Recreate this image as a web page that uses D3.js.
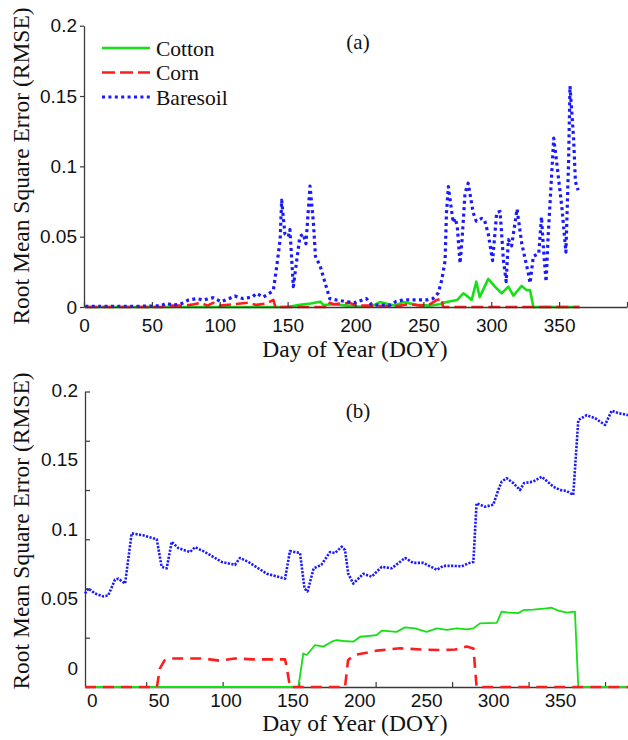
<!DOCTYPE html>
<html>
<head>
<meta charset="utf-8">
<script src="https://cdn.jsdelivr.net/npm/d3@7"></script>
<style>
  body { margin: 0; background: #fff; }
  svg { display: block; }
  .tick text { font-family: "Liberation Sans", Arial, sans-serif; font-size: 19px; fill: #111; }
  .serif { font-family: "Liberation Serif", "Times New Roman", serif; fill: #111; }
</style>
</head>
<body>
<svg id="chart" width="628" height="740"></svg>
<script>
// ---- Series: [day of year, RMSE] ----
const seriesNames = ["Cotton", "Corn", "Baresoil"];

// Panel (a)
const aCotton = [[1,0],[148,0],[152,0.0003],[159,0.0015],[167,0.0025],[174,0.0038],[176.5,0.0014],[184,0.002],
  [194,0.001],[200,0.0003],[212,0.0005],[218,0.0035],[224.5,0.002],[229,0.001],[235,0.0035],[245,0.0015],
  [255,0.001],[262,0.002],[267,0.0035],[275,0.005],[279.4,0.0097],[282,0.008],[285.6,0.005],[289,0.018],
  [291.5,0.007],[297.8,0.020],[302.7,0.0145],[307.7,0.0097],[312.6,0.0145],[316.3,0.008],[322.4,0.015],
  [326,0.012],[328.6,0.012],[331,0],[365,0]];
const aCorn = [[1,0],[58,0],[60,0.001],[75,0.001],[81,0.002],[86,0.003],[91,0.001],[95,0.003],[100,0.001],
  [110,0.002],[121,0.003],[127,0.0015],[134.5,0.0025],[139.5,0.005],[141,0],[180,0],[181,0.003],[184,0.002],
  [196,0.003],[200,0.001],[215,0.001],[225,0.0005],[233,0.001],[240,0.002],[248,0.001],[255,0.002],
  [260,0.005],[263.5,0.006],[264.5,0],[365,0]];
const aBaresoil = [[1,0.0005],[20,0.0005],[40,0.0005],[56,0.0008],[61,0.0026],[65,0.0014],[71,0.002],[77,0.005],
  [83,0.006],[88,0.005],[95,0.0066],[101,0.0038],[107,0.006],[111,0.0078],[117,0.006],[124,0.007],[127,0.0097],
  [132,0.007],[137,0.010],[139.5,0.012],[142,0.029],[144.5,0.048],[145.6,0.076],[148,0.052],[150.5,0.050],
  [151.7,0.055],[154.2,0.0145],[156.7,0.033],[159,0.050],[161.5,0.052],[163.5,0.045],[166.5,0.086],[169,0.060],
  [170.5,0.036],[174,0.029],[181,0.006],[186,0.005],[192,0.004],[199,0.003],[208,0.006],[212,0.0014],
  [218,0.0014],[225.7,0.0014],[230,0.004],[235,0.005],[245,0.005],[252.5,0.005],[257,0.006],[261,0.010],
  [263.5,0.019],[266,0.033],[267,0.067],[268.4,0.0856],[271,0.067],[272,0.060],[273.5,0.063],[275,0.057],
  [277,0.031],[278.5,0.048],[280.7,0.081],[283,0.088],[286.7,0.067],[289,0.061],[293,0.063],[295,0.062],
  [297.8,0.052],[301,0.033],[304,0.067],[306.5,0.068],[309,0.033],[311,0.018],[312.6,0.048],[315,0.0435],
  [319,0.0696],[322.5,0.045],[327.3,0.024],[328.6,0.017],[331,0.036],[335,0.038],[337,0.064],[338.5,0.041],
  [340.4,0.018],[342,0.052],[344,0.0856],[346,0.120],[348,0.1045],[352,0.071],[355,0.039],[357,0.1045],
  [358,0.157],[360.7,0.119],[362,0.089],[364,0.083]];

// Panel (b)
const bCotton = [[10,0],[149.5,0],[152.7,0.034],[155,0.0325],[160.4,0.0426],[165.8,0.041],[171.3,0.046],
  [174.5,0.0477],[178.9,0.0467],[185.4,0.046],[189.8,0.051],[196.3,0.052],[200.7,0.0528],[204,0.0572],
  [213.8,0.056],[219.2,0.0606],[225.7,0.0595],[233.4,0.056],[240,0.0595],[246.5,0.058],[253,0.0595],
  [259.5,0.0584],[263.9,0.0595],[268.2,0.0646],[279.2,0.065],[282.4,0.0765],[286.7,0.0755],[293.3,0.075],
  [296.5,0.078],[303,0.0785],[311.8,0.0799],[315.1,0.0805],[319.4,0.0775],[324.9,0.0755],[330.3,0.0765],
  [332.5,0],[365,0]];
const bCorn = [[10,0],[57,0],[59,0.019],[62,0.027],[65.6,0.029],[76,0.029],[87,0.029],[98,0.0267],[108,0.029],
  [120,0.028],[140.8,0.028],[142,0.019],[144,0],[180,0],[182,0.0274],[186.5,0.0325],[200.7,0.0369],
  [216,0.0393],[230,0.038],[242,0.0375],[252,0.038],[259.5,0.041],[264,0.039],[266,0],[365,0]];
const bBaresoil = [[10,0.095],[12.2,0.100],[16.5,0.095],[22,0.092],[25.2,0.093],[29.6,0.109],[31.8,0.110],
  [36.2,0.105],[40.5,0.156],[48,0.154],[56.9,0.150],[60.1,0.122],[63.4,0.1205],[66.7,0.1475],[71,0.141],
  [78.6,0.137],[82,0.142],[89.6,0.136],[99.4,0.127],[108,0.124],[111.3,0.131],[116.8,0.127],[128.8,0.115],
  [140.8,0.110],[144,0.138],[150.6,0.136],[153.5,0.100],[155.5,0.097],[159.5,0.1205],[164.5,0.124],
  [170.2,0.137],[173.4,0.136],[177.8,0.1424],[180,0.139],[182.1,0.115],[185.4,0.105],[192,0.115],
  [197.4,0.112],[204,0.122],[210.5,0.1205],[219.2,0.131],[224.6,0.126],[231.2,0.126],[240,0.119],
  [244.3,0.123],[250.8,0.123],[256.3,0.1225],[260.6,0.1256],[263.9,0.127],[266,0.1865],[271.5,0.183],
  [276.9,0.185],[280.2,0.200],[282.4,0.2085],[285.7,0.212],[290,0.207],[294.4,0.200],[297,0.207],
  [303,0.2085],[308.6,0.2135],[316.2,0.2034],[320.5,0.200],[324.9,0.199],[329.2,0.195],[332.5,0.271],
  [338,0.276],[343.4,0.273],[350,0.266],[354.3,0.2805],[358.7,0.278],[365,0.276]];

// ---- Axis ticks and labels ----
const xTicksA = [0, 50, 100, 150, 200, 250, 300, 350, 400];
const yTicksA = [0, 0.05, 0.1, 0.15, 0.2];
const xMarksB = [50, 100, 150, 200, 250, 300, 350];
const yMarksB = [0, 0.05, 0.1, 0.15, 0.2, 0.25, 0.3];
const xLabelsB = [0, 50, 100, 150, 200, 250, 300, 350];
const yLabelsB = [0, 0.05, 0.1, 0.15, 0.2];

const colors = { Cotton: "#14e014", Corn: "#ff1c1c", Baresoil: "#1a1aff" };
const fmtY = v => v === 0 ? "0" : String(+v.toFixed(2));

const svg = d3.select("#chart");

function styleAxis(g) {
  g.select(".domain").attr("stroke", "#3a3a3a").attr("stroke-width", 1.3);
  g.selectAll(".tick line").attr("stroke", "#3a3a3a").attr("stroke-width", 1.2);
}

// ================= Panel (a) =================
const xA = d3.scaleLinear().domain([0, 400]).range([84, 627]);
const yA = d3.scaleLinear().domain([0, 0.2]).range([307, 25.7]);

const lineA = d3.line().x(d => xA(d[0])).y(d => yA(d[1]));
const panelA = svg.append("g");

const styleA = {
  Cotton:   { w: 2.6, dash: null },
  Corn:     { w: 2.6, dash: "12,5" },
  Baresoil: { w: 3.2, dash: "3,3.4" }
};
[["Cotton", aCotton], ["Corn", aCorn], ["Baresoil", aBaresoil]].forEach(([name, data]) => {
  panelA.append("path").datum(data)
    .attr("d", lineA).attr("fill", "none")
    .attr("stroke", colors[name]).attr("stroke-width", styleA[name].w)
    .attr("stroke-dasharray", styleA[name].dash)
    .attr("stroke-linejoin", "round");
});

panelA.append("g").attr("transform", "translate(0,307)")
  .call(d3.axisBottom(xA).tickValues(xTicksA).tickSize(-5).tickSizeOuter(0).tickPadding(11.5)
    .tickFormat(d => d === 400 ? "" : d))
  .call(styleAxis);
panelA.append("g").attr("transform", "translate(84,0)")
  .call(d3.axisLeft(yA).tickValues(yTicksA).tickSize(4).tickSizeOuter(0).tickPadding(3).tickFormat(fmtY))
  .call(styleAxis);

// legend
const legend = panelA.append("g");
seriesNames.forEach((name, i) => {
  const y = 48 + i * 24.5;
  legend.append("line").attr("x1", 102).attr("x2", 150).attr("y1", y).attr("y2", y)
    .attr("stroke", colors[name]).attr("stroke-width", styleA[name].w)
    .attr("stroke-dasharray", name === "Corn" ? "13,5" : styleA[name].dash);
  legend.append("text").attr("class", "serif").attr("x", 156).attr("y", y + 7.5)
    .attr("font-size", 21.5).text(name);
});

panelA.append("text").attr("class", "serif").attr("x", 358).attr("y", 49)
  .attr("text-anchor", "middle").attr("font-size", 21).text("(a)");
panelA.append("text").attr("class", "serif").attr("x", 355).attr("y", 357)
  .attr("text-anchor", "middle").attr("font-size", 23.5).text("Day of Year (DOY)");
panelA.append("text").attr("class", "serif")
  .attr("transform", "translate(29,166) rotate(-90)")
  .attr("text-anchor", "middle").attr("font-size", 23.5).text("Root Mean Square Error (RMSE)");

// ================= Panel (b) =================
const xB = d3.scaleLinear().domain([10, 365]).range([85, 628]);
const yB = d3.scaleLinear().domain([0, 0.3]).range([687, 391.5]);
// tick labels are set on the same grid spacing as panel (a)
const xBLab = d3.scaleLinear().domain([0, 350]).range([91.7, 560]);
const yBLab = d3.scaleLinear().domain([0, 0.2]).range([668, 390]);

const lineB = d3.line().x(d => xB(d[0])).y(d => yB(d[1]));
const panelB = svg.append("g");

panelB.append("g").attr("transform", "translate(0,687)")
  .call(d3.axisBottom(xB).tickValues(xMarksB).tickSize(-5).tickSizeOuter(0).tickFormat(""))
  .call(styleAxis);
panelB.append("g").attr("transform", "translate(85,0)")
  .call(d3.axisLeft(yB).tickValues(yMarksB).tickSize(-5).tickSizeOuter(0).tickFormat(""))
  .call(styleAxis);

const labX = panelB.append("g").attr("transform", "translate(0,687)")
  .call(d3.axisBottom(xBLab).tickValues(xLabelsB).tickSize(0).tickPadding(6.5));
labX.select(".domain").remove();
const labY = panelB.append("g").attr("transform", "translate(85,0)")
  .call(d3.axisLeft(yBLab).tickValues(yLabelsB).tickSize(0).tickPadding(7).tickFormat(fmtY));
labY.select(".domain").remove();

const styleB = {
  Cotton:   { w: 1.8, dash: null },
  Corn:     { w: 2.6, dash: "11,7" },
  Baresoil: { w: 2.6, dash: "2.2,1.4" }
};
[["Cotton", bCotton], ["Corn", bCorn], ["Baresoil", bBaresoil]].forEach(([name, data]) => {
  panelB.append("path").datum(data)
    .attr("d", lineB).attr("fill", "none")
    .attr("stroke", colors[name]).attr("stroke-width", styleB[name].w)
    .attr("stroke-dasharray", styleB[name].dash)
    .attr("stroke-linejoin", "round");
});

panelB.append("text").attr("class", "serif").attr("x", 358).attr("y", 418)
  .attr("text-anchor", "middle").attr("font-size", 21).text("(b)");
panelB.append("text").attr("class", "serif").attr("x", 355).attr("y", 731)
  .attr("text-anchor", "middle").attr("font-size", 23.5).text("Day of Year (DOY)");
panelB.append("text").attr("class", "serif")
  .attr("transform", "translate(29,531) rotate(-90)")
  .attr("text-anchor", "middle").attr("font-size", 23.5).text("Root Mean Square Error (RMSE)");
</script>
</body>
</html>
